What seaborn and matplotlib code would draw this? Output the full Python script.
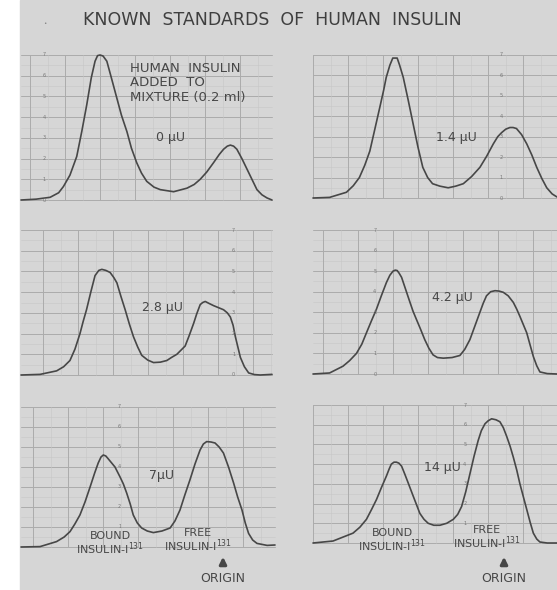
import matplotlib
matplotlib.use("Agg")
import matplotlib.pyplot as plt
import seaborn as sns
from matplotlib.patches import Rectangle

# curve readings: x as fraction of panel width, y in chart units (0-7)
tl_x = [0, 0.06, 0.116, 0.15, 0.169, 0.195, 0.222, 0.242, 0.262, 0.28,
        0.295, 0.305, 0.315, 0.327, 0.342, 0.36, 0.38, 0.40, 0.422, 0.44,
        0.461, 0.48, 0.501, 0.53, 0.555, 0.608, 0.661, 0.69, 0.714, 0.74,
        0.767, 0.79, 0.807, 0.822, 0.834, 0.847, 0.86, 0.88, 0.9, 0.92,
        0.94, 0.96, 0.98, 1.0]
tl_y = [0, 0.04, 0.13, 0.35, 0.65, 1.2, 2.1, 3.3, 4.6, 5.9,
        6.7, 6.97, 7.0, 6.95, 6.7, 5.9, 5.0, 4.1, 3.3, 2.5,
        1.8, 1.3, 0.9, 0.62, 0.5, 0.4, 0.57, 0.75, 1.0, 1.35,
        1.8, 2.2, 2.45, 2.6, 2.65, 2.6, 2.45, 2.0, 1.5, 1.0,
        0.5, 0.25, 0.1, 0]

tr_x = [0, 0.068, 0.137, 0.165, 0.19, 0.212, 0.233, 0.254, 0.274, 0.29,
        0.30, 0.315, 0.327, 0.345, 0.355, 0.37, 0.39, 0.41, 0.43, 0.45,
        0.47, 0.49, 0.52, 0.554, 0.585, 0.616, 0.65, 0.684, 0.712, 0.739,
        0.757, 0.773, 0.79, 0.807, 0.82, 0.834, 0.855, 0.876, 0.897, 0.917,
        0.938, 0.958, 0.98, 1.0]
tr_y = [0, 0.03, 0.28, 0.6, 1.0, 1.6, 2.3, 3.4, 4.45, 5.3,
        5.9, 6.5, 6.85, 6.85, 6.5, 5.9, 4.8, 3.65, 2.5, 1.5,
        1.0, 0.7, 0.58, 0.5, 0.58, 0.7, 1.05, 1.5, 2.05, 2.65,
        3.0, 3.2, 3.37, 3.45, 3.45, 3.4, 3.1, 2.65, 2.1, 1.5,
        0.95, 0.5, 0.2, 0.05]

ml_x = [0, 0.076, 0.142, 0.17, 0.195, 0.215, 0.235, 0.248, 0.261, 0.278,
        0.295, 0.31, 0.322, 0.338, 0.355, 0.37, 0.382, 0.398, 0.415, 0.432,
        0.448, 0.465, 0.481, 0.505, 0.528, 0.555, 0.581, 0.60, 0.621, 0.654,
        0.67, 0.688, 0.70, 0.714, 0.724, 0.734, 0.75, 0.767, 0.787, 0.807,
        0.822, 0.834, 0.845, 0.854, 0.864, 0.874, 0.89, 0.907, 0.93, 0.953,
        1.0]
ml_y = [0, 0.03, 0.2, 0.4, 0.7, 1.25, 2.0, 2.6, 3.15, 4.0,
        4.8, 5.05, 5.1, 5.05, 4.95, 4.7, 4.45, 3.8, 3.15, 2.45,
        1.85, 1.35, 0.95, 0.72, 0.6, 0.62, 0.7, 0.85, 1.0, 1.4,
        1.9, 2.5, 2.95, 3.4, 3.5, 3.55, 3.45, 3.35, 3.25, 3.15,
        3.0, 2.8, 2.4, 1.85, 1.35, 0.85, 0.4, 0.1, 0.02, 0,
        0.03]

mr_x = [0, 0.068, 0.123, 0.15, 0.178, 0.2, 0.219, 0.24, 0.26, 0.28,
        0.301, 0.315, 0.328, 0.337, 0.345, 0.353, 0.363, 0.38, 0.397, 0.41,
        0.424, 0.44, 0.458, 0.475, 0.492, 0.51, 0.534, 0.57, 0.602, 0.622,
        0.643, 0.664, 0.684, 0.698, 0.711, 0.728, 0.746, 0.763, 0.78, 0.80,
        0.821, 0.835, 0.848, 0.862, 0.876, 0.89, 0.903, 0.917, 0.93, 0.96,
        1.0]
mr_y = [0, 0.05, 0.38, 0.65, 1.0, 1.45, 2.0, 2.6, 3.15, 3.8,
        4.45, 4.8, 5.0, 5.05, 5.03, 4.9, 4.7, 4.1, 3.5, 3.05,
        2.65, 2.2, 1.67, 1.25, 0.93, 0.8, 0.77, 0.8, 0.9, 1.2,
        1.67, 2.35, 3.0, 3.45, 3.8, 4.0, 4.05, 4.03, 3.97, 3.8,
        3.48, 3.15, 2.8, 2.4, 2.0, 1.4, 0.85, 0.4, 0.1, 0.02,
        0]

bl_x = [0, 0.075, 0.14, 0.17, 0.193, 0.212, 0.232, 0.252, 0.272, 0.29,
        0.304, 0.315, 0.324, 0.334, 0.344, 0.357, 0.37, 0.39, 0.403, 0.416,
        0.43, 0.442, 0.458, 0.475, 0.497, 0.521, 0.555, 0.587, 0.606, 0.626,
        0.645, 0.665, 0.685, 0.705, 0.718, 0.731, 0.748, 0.764, 0.78, 0.797,
        0.817, 0.837, 0.853, 0.87, 0.883, 0.896, 0.912, 0.929, 0.969, 1.0]
bl_y = [0, 0.02, 0.27, 0.5, 0.77, 1.15, 1.6, 2.25, 3.0, 3.7,
        4.2, 4.5, 4.6, 4.55, 4.4, 4.2, 4.0, 3.5, 3.15, 2.7,
        2.15, 1.6, 1.2, 0.95, 0.8, 0.72, 0.8, 0.95, 1.3, 1.85,
        2.6, 3.35, 4.15, 4.85, 5.15, 5.27, 5.25, 5.2, 5.0, 4.7,
        4.0, 3.2, 2.5, 1.85, 1.2, 0.68, 0.35, 0.18, 0.08, 0.1]

br_x = [0, 0.082, 0.164, 0.192, 0.219, 0.24, 0.26, 0.28, 0.301, 0.312,
        0.321, 0.332, 0.342, 0.352, 0.363, 0.376, 0.39, 0.41, 0.424, 0.438,
        0.455, 0.472, 0.495, 0.52, 0.548, 0.575, 0.593, 0.609, 0.626, 0.643,
        0.66, 0.677, 0.69, 0.705, 0.718, 0.732, 0.75, 0.766, 0.78, 0.794,
        0.808, 0.821, 0.835, 0.848, 0.862, 0.876, 0.89, 0.903, 0.917, 0.93,
        0.96, 1.0]
br_y = [0, 0.1, 0.5, 0.8, 1.2, 1.7, 2.2, 2.8, 3.4, 3.75,
        4.0, 4.1, 4.1, 4.05, 3.9, 3.5, 3.05, 2.4, 1.95, 1.5,
        1.2, 1.0, 0.9, 0.9, 1.0, 1.2, 1.45, 1.85, 2.6, 3.5,
        4.4, 5.2, 5.7, 6.05, 6.2, 6.3, 6.25, 6.15, 5.85, 5.4,
        4.9, 4.35, 3.7, 3.0, 2.35, 1.7, 1.05, 0.5, 0.2, 0.05,
        0, 0]

dose_labels = ["0 \u03bcU", "1.4 \u03bcU", "2.8 \u03bcU", "4.2 \u03bcU", "7\u03bcU", "14 \u03bcU"]
unit_ticks = [0, 1, 2, 3, 4, 5, 6, 7]

W, H = 557, 590
BG = "#d6d6d6"
INK = "#474747"
GRID = "#ababab"

sns.set_theme(style="white")
plt.rcParams["font.family"] = ["DejaVu Sans"]
plt.rcParams["mathtext.fontset"] = "dejavusans"

fig = plt.figure(figsize=(W / 100, H / 100), dpi=100, facecolor="white")
fig.patches.append(Rectangle((20 / W, 0), 1 - 20 / W, 1, transform=fig.transFigure,
                             color=BG, zorder=-10))


def px_ax(left, right, top, base):
    # panel box from pixel edges (top = level 7, base = level 0)
    return fig.add_axes([left / W, 1 - base / H, (right - left) / W, (base - top) / H])


# (x list, y list, box, grid offset, tick column, dose label position)
panels = [
    (tl_x, tl_y, (21, 272, 55, 200), 0.036, 0.093, (170, 138)),
    (tr_x, tr_y, (313, 557, 55, 198), 0.0, 0.77, (456, 137)),
    (ml_x, ml_y, (21, 272, 230, 375), 0.089, 0.847, (162, 307)),
    (mr_x, mr_y, (313, 557, 230, 374), 0.041, 0.253, (452, 298)),
    (bl_x, bl_y, (21, 275, 407, 547), 0.049, 0.388, (162, 476)),
    (br_x, br_y, (313, 557, 405, 543), 0.0, 0.622, (442, 467)),
]

for i, (xs, ys, box, off, tcol, lab) in enumerate(panels):
    ax = px_ax(*box)
    ax.set_facecolor("none")
    ax.set_xlim(0, 1)
    ax.set_ylim(0, 7)
    step = 35 / (box[1] - box[0])
    # chart paper grid
    for v in range(8):
        ax.axhline(v, color=GRID, lw=0.7, zorder=0)
        if v < 7:
            ax.axhline(v + 0.5, color="#c6c6c6", lw=0.4, zorder=0)
    gx = off
    while gx <= 1.001:
        ax.axvline(gx, color=GRID, lw=0.7, zorder=0)
        if gx + step / 2 <= 1:
            ax.axvline(gx + step / 2, color="#c6c6c6", lw=0.4, zorder=0)
        gx += step
    # bottom row: the "0" mark sits under the peak labels
    for t in unit_ticks[1:] if i >= 4 else unit_ticks:
        ax.text(tcol, t, str(t), fontsize=3.5, color="#777777", ha="center", va="center")
    sns.lineplot(x=xs, y=ys, ax=ax, color=INK, linewidth=1.2, estimator=None, sort=False)
    for ln in ax.lines:
        ln.set_clip_on(False)
        ln.set_solid_joinstyle("round")
    ax.set_xticks([])
    ax.set_yticks([])
    sns.despine(ax=ax, left=True, bottom=True)
    fig.text(lab[0] / W, 1 - lab[1] / H, dose_labels[i], fontsize=9, color=INK,
             ha="center", va="center")

fig.text(272 / W, 1 - 20 / H, "KNOWN  STANDARDS  OF  HUMAN  INSULIN", fontsize=12.5,
         color="#3f3f3f", ha="center", va="center")
fig.text(45 / W, 1 - 24 / H, "\u2022", fontsize=4, color="#808080", ha="center", va="center")

fig.text(130 / W, 1 - 83 / H, "HUMAN  INSULIN\nADDED  TO\nMIXTURE (0.2 ml)", fontsize=9.5,
         color=INK, ha="left", va="center", linespacing=1.1)

# peak labels and origin markers on the bottom row
for bx, fx, ax_x, by, fy in [(110, 198, 223, 544, 541), (392, 487, 504, 541, 538)]:
    fig.text(bx / W, 1 - by / H, "BOUND\nINSULIN-I$^{131}$", fontsize=8, color=INK,
             ha="center", va="center", linespacing=1.0)
    fig.text(fx / W, 1 - fy / H, "FREE\nINSULIN-I$^{131}$", fontsize=8, color=INK,
             ha="center", va="center", linespacing=1.0)
    fig.text(ax_x / W, 1 - 578 / H, "ORIGIN", fontsize=9, color=INK, ha="center", va="center")
    plt.annotate("", xy=(ax_x, H - 554), xytext=(ax_x, H - 568), xycoords="figure pixels",
                 textcoords="figure pixels",
                 arrowprops=dict(arrowstyle="-|>", color=INK, lw=2.2, mutation_scale=10))

fig.savefig("out.png", dpi=100, facecolor="white")
